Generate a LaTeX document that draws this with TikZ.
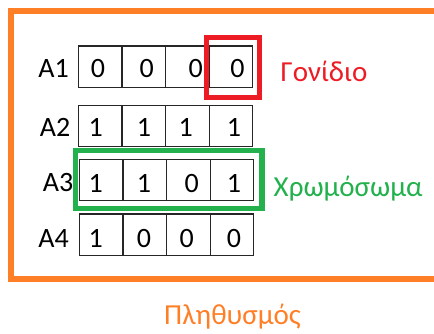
\documentclass[tikz,border=0pt]{standalone}
\usepackage{fontspec}
\setmainfont{Carlito}
\definecolor{popOrange}{RGB}{255,127,39}
\definecolor{geneRed}{RGB}{237,28,36}
\definecolor{chromGreen}{RGB}{34,177,76}
\begin{document}
\begin{tikzpicture}[x=1pt,y=-1pt,
  cell/.style={draw=black!85,line width=1.2pt,minimum width=43.6pt,minimum height=41.6pt,inner sep=0pt},
  digit/.style={font=\fontsize{28}{28}\selectfont,inner sep=0pt,anchor=base},
  rowlabel/.style={font=\fontsize{28}{28}\selectfont,inner sep=0pt,anchor=base},
  tag/.style={font=\fontsize{29}{29}\selectfont,inner sep=0pt,anchor=base west}]
\useasboundingbox (0,0) rectangle (434,334);

% population frame (runs off the right edge)
\draw[popOrange,line width=5.5pt] (450,11) -- (11,11) -- (11,279) -- (450,279);

% gene strings
\foreach \r/\x/\y in {1/78.3/66.85, 2/78.3/126, 3/79.3/180, 4/79.3/234.85}{
  \foreach \c in {1,...,4}{
    \node[cell] (c\r\c) at ({\x+43.6*(\c-0.5)},\y) {};
  }
}

% row labels
\node[rowlabel] (lA1) at (53.5,77.7) {A1};
\node[rowlabel] (lA2) at (55,136.7) {A2};
\node[rowlabel] (lA3) at (58,191.7) {A3};
\node[rowlabel] (lA4) at (53.5,247.3) {A4};

% bits
\foreach \r/\y/\a/\b/\c/\d/\pa/\pb/\pc/\pd in {
  1/77.3/0/0/0/0/98/146.7/195.8/237.5,
  2/136.7/1/1/1/1/95.8/144/185.8/234,
  3/192.5/1/1/0/1/95.8/144/191.7/234,
  4/247.3/1/0/0/0/95.8/144/186.7/234}{
  \node[digit] (d\r1) at (\pa,\y) {\a};
  \node[digit] (d\r2) at (\pb,\y) {\b};
  \node[digit] (d\r3) at (\pc,\y) {\c};
  \node[digit] (d\r4) at (\pd,\y) {\d};
}

% gene marker
\draw[geneRed,line width=5.3pt] (206.2,37.5) rectangle (259.2,97.2);
\node[tag,text=geneRed] (gene) at (280.5,81.7) {Γονίδιο};

% chromosome marker
\draw[chromGreen,line width=5.5pt] (75.5,150.3) rectangle (262,208.7);
\node[tag,text=chromGreen] (chrom) at (273.5,196.7) {Χρωμόσωμα};

% population caption
\node[tag,text=popOrange] (pop) at (164,324.3) {Πληθυσμός};
\end{tikzpicture}
\end{document}
